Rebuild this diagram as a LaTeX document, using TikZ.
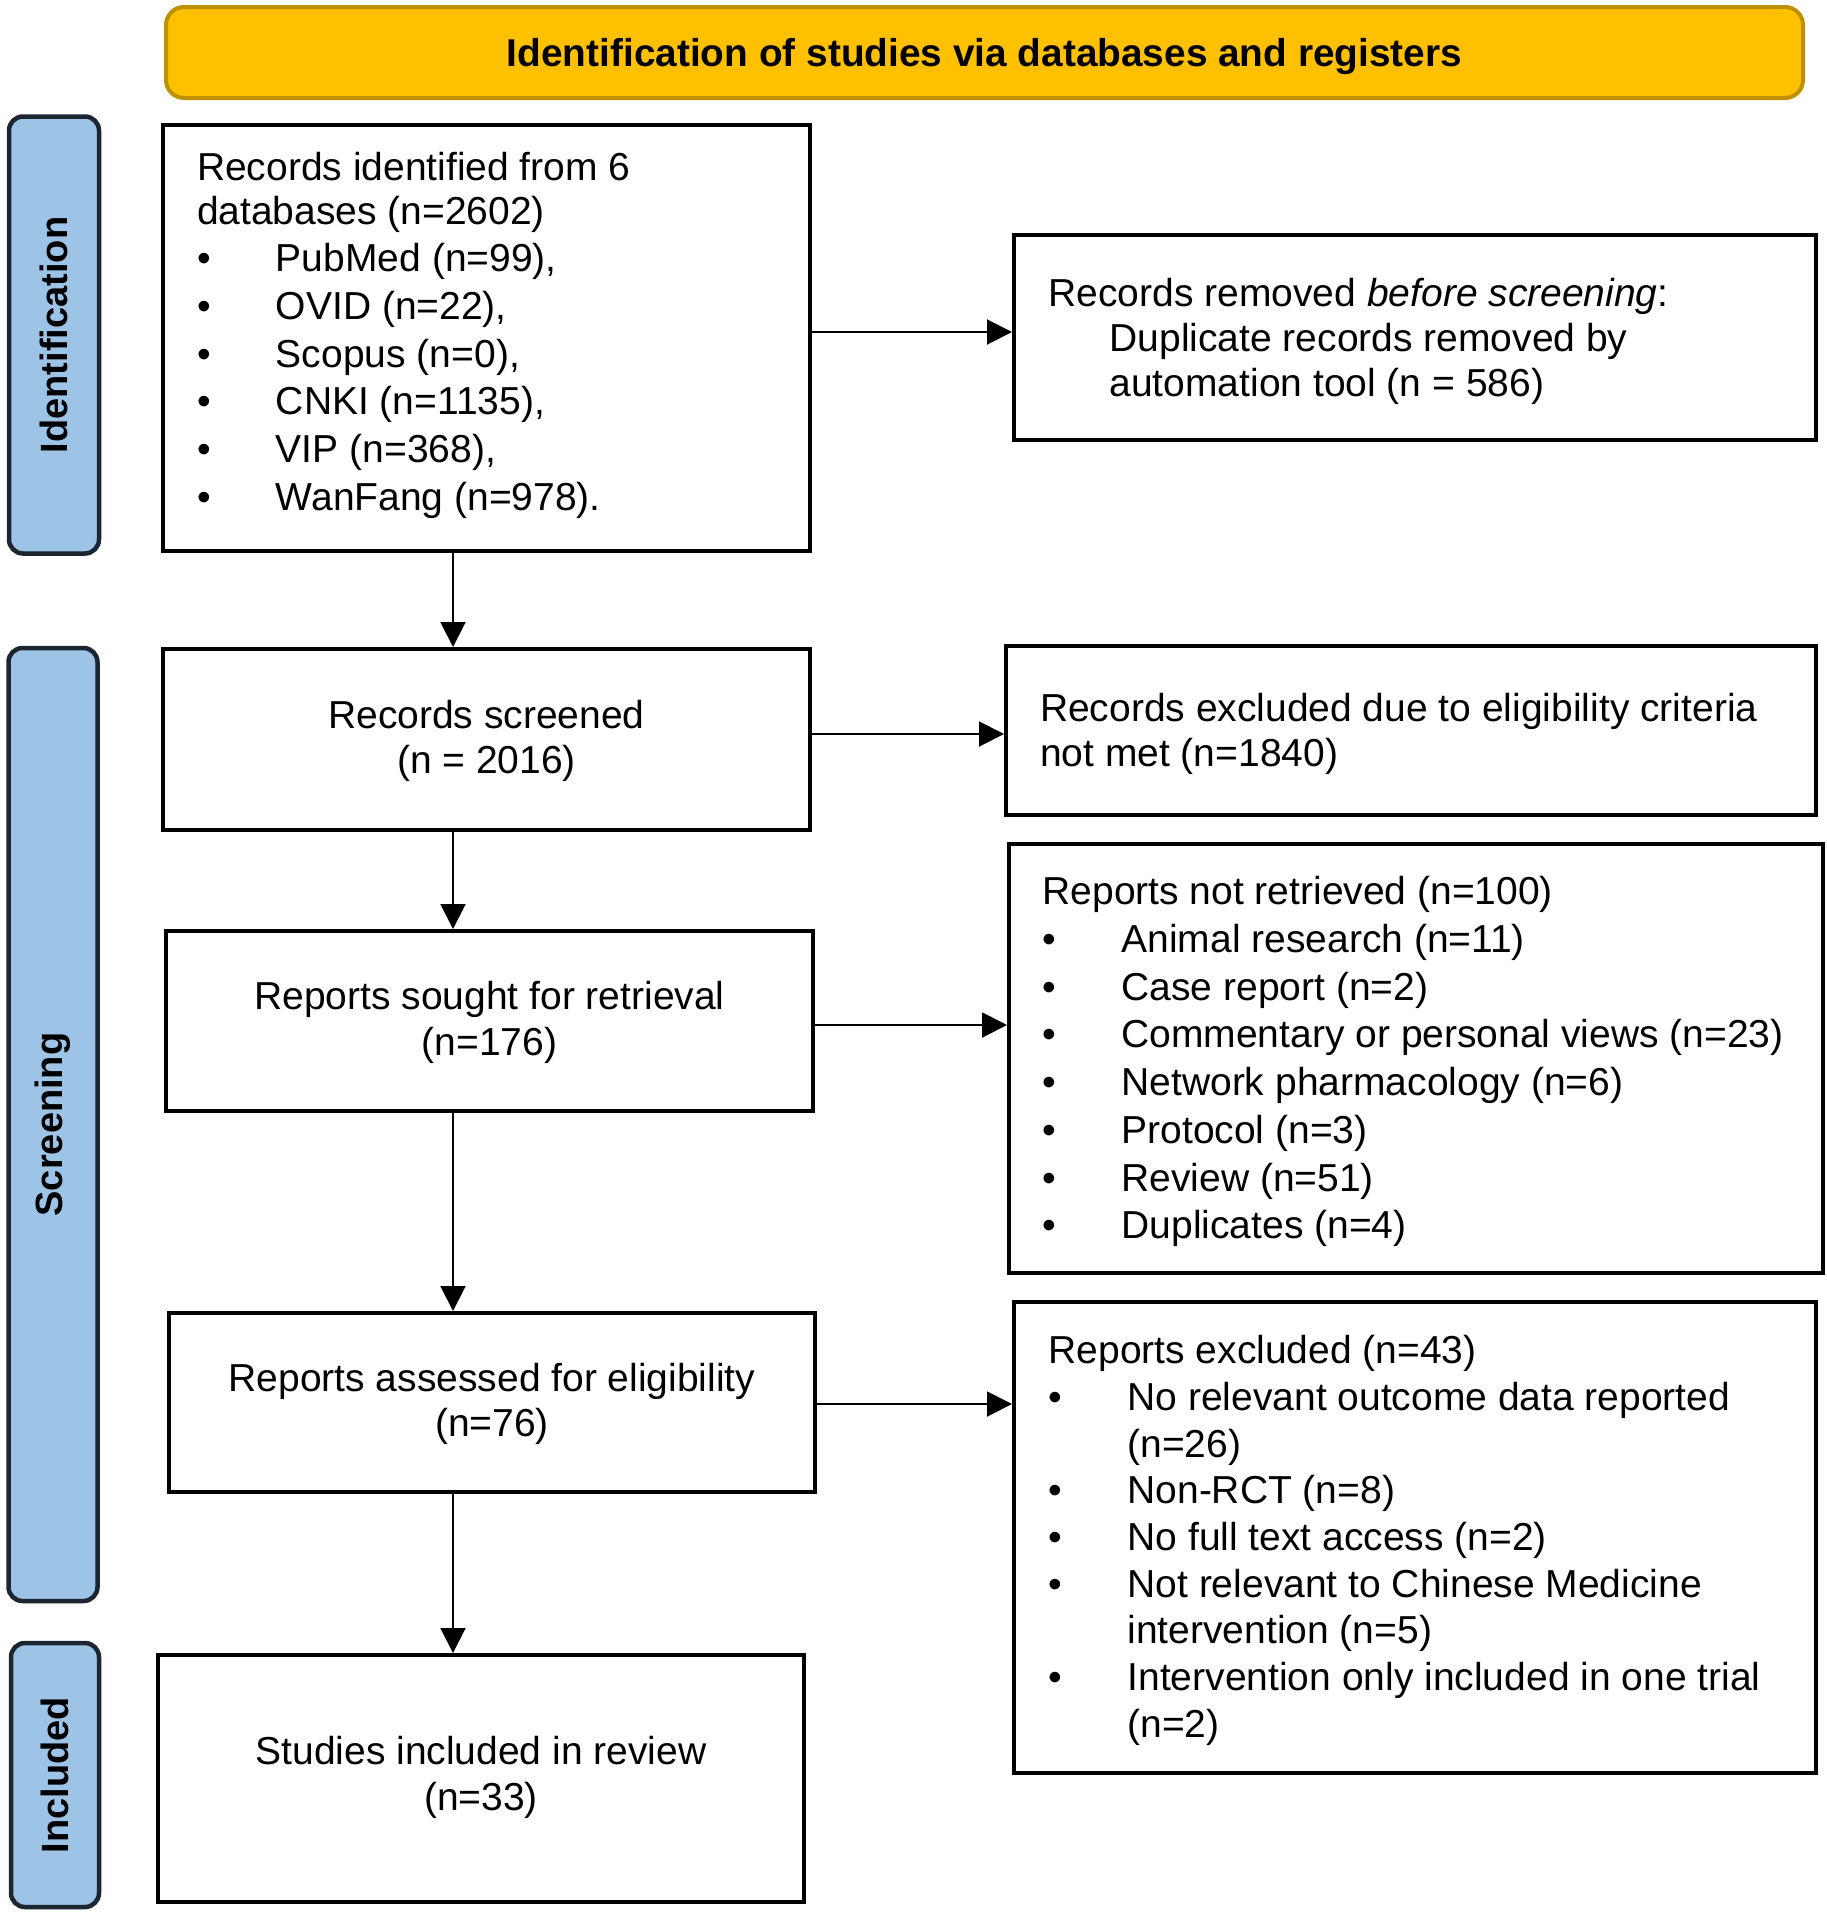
\documentclass[tikz,border=0pt]{standalone}
\usepackage{fontspec}
\setmainfont{Liberation Sans}
\usetikzlibrary{arrows.meta}
\definecolor{hdrfill}{HTML}{FFC000}
\definecolor{hdrdraw}{HTML}{BF9000}
\definecolor{sidefill}{HTML}{9DC3E6}
\definecolor{sidedraw}{HTML}{1C2530}
\newcommand{\bul}{\makebox[79pt][l]{•}}
\newcommand{\cont}{\hspace*{79pt}}
\newcommand{\lbox}[3]{\raisebox{#1pt}[\height][\depth]{\makebox[#2pt][l]{\begin{tabular}{@{}l@{}}#3\end{tabular}}}}
\newcommand{\cbox}[2]{\raisebox{#1pt}[\height][\depth]{\begin{tabular}{@{}c@{}}#2\end{tabular}}}
\begin{document}
\begin{tikzpicture}[x=1pt,y=-1pt,
  box/.style={draw=black,line width=4pt,fill=white,inner sep=0pt,anchor=center},
  hdr/.style={draw=hdrdraw,line width=4pt,fill=hdrfill,rounded corners=18pt,inner sep=0pt,
     font=\fontsize{38.8}{40}\selectfont\bfseries},
  side/.style={draw=sidedraw,line width=4.5pt,fill=sidefill,rounded corners=14pt,inner sep=0pt,
     rotate=90,font=\fontsize{38}{40}\selectfont\bfseries},
  arr/.style={line width=2pt,-{Triangle[length=25pt,width=25pt]}},
  fA/.style={font=\fontsize{39}{45.2}\selectfont},
  fB/.style={font=\fontsize{39}{47.7}\selectfont},
  fC/.style={font=\fontsize{39}{46.7}\selectfont}]
\useasboundingbox (0,0) rectangle (1827,1912);

% header
\node[hdr, minimum width=1637pt, minimum height=91pt] (hdr) at (984.5,52.5)
  {\raisebox{-3.7pt}[\height][\depth]{Identification of studies via databases and registers}};

% side bars
\node[side, minimum width=437pt, minimum height=90pt] (sideI) at (54,335) {Identification};
\node[side, minimum width=953pt, minimum height=89pt] (sideS) at (53,1124.5) {Screening};
\node[side, minimum width=264pt, minimum height=88pt] (sideN) at (55,1775) {Included};

% boxes
\node[box, fB, minimum width=647pt, minimum height=426pt] (ident) at (486.5,338)
  {\lbox{2.4}{579}{Records identified from 6\\[-3.7pt]
   databases (n=2602)\\
   \bul PubMed (n=99),\\
   \bul OVID (n=22),\\
   \bul Scopus (n=0),\\
   \bul CNKI (n=1135),\\
   \bul VIP (n=368),\\
   \bul WanFang (n=978).}};

\node[box, fA, minimum width=802pt, minimum height=205pt] (removed) at (1415,337.5)
  {\lbox{-4.8}{733}{Records removed \textit{before screening}:\\
   \hspace*{61pt}Duplicate records removed by\\
   \hspace*{61pt}automation tool (n = 586)}};

\node[box, fA, minimum width=647pt, minimum height=181pt] (screened) at (486.5,739.5)
  {\cbox{-2.5}{Records screened\\(n = 2016)}};

\node[box, fA, minimum width=810pt, minimum height=169pt] (excluded) at (1411,730.5)
  {\lbox{-4.8}{742}{Records excluded due to eligibility criteria\\
   not met (n=1840)}};

\node[box, fA, minimum width=647pt, minimum height=180pt] (sought) at (489.5,1021)
  {\cbox{-2.5}{Reports sought for retrieval\\(n=176)}};

\node[box, fB, minimum width=814pt, minimum height=429pt] (notret) at (1416,1058.5)
  {\lbox{-3.7}{747}{Reports not retrieved (n=100)\\
   \bul Animal research (n=11)\\
   \bul Case report (n=2)\\
   \bul Commentary or personal views (n=23)\\
   \bul Network pharmacology (n=6)\\
   \bul Protocol (n=3)\\
   \bul Review (n=51)\\
   \bul Duplicates (n=4)}};

\node[box, fA, minimum width=646pt, minimum height=179pt] (assessed) at (492,1402.5)
  {\cbox{-2.5}{Reports assessed for eligibility\\(n=76)}};

\node[box, fC, minimum width=802pt, minimum height=471pt] (repexcl) at (1415,1537.5)
  {\lbox{-3.7}{733}{Reports excluded (n=43)\\
   \bul No relevant outcome data reported\\
   \cont(n=26)\\
   \bul Non-RCT (n=8)\\
   \bul No full text access (n=2)\\
   \bul Not relevant to Chinese Medicine\\
   \cont intervention (n=5)\\
   \bul Intervention only included in one trial\\
   \cont(n=2)}};

\node[box, fA, minimum width=646pt, minimum height=247pt] (included) at (481,1778.5)
  {\cbox{0}{Studies included in review\\(n=33)}};

% vertical connectors
\coordinate (vx) at (453,0);
\draw[arr] (ident.south -| vx) -- (screened.north -| vx);
\draw[arr] (screened.south -| vx) -- (sought.north -| vx);
\draw[arr] (sought.south -| vx) -- (assessed.north -| vx);
\draw[arr] (assessed.south -| vx) -- (included.north -| vx);

% horizontal connectors
\draw[arr] ([yshift=6pt]ident.east) -- ([yshift=6pt]ident.east -| removed.west);
\draw[arr] ([yshift=5.5pt]screened.east) -- ([yshift=5.5pt]screened.east -| excluded.west);
\draw[arr] ([yshift=-4pt]sought.east) -- ([yshift=-4pt]sought.east -| notret.west);
\draw[arr] ([yshift=-1.5pt]assessed.east) -- ([yshift=-1.5pt]assessed.east -| repexcl.west);
\end{tikzpicture}
\end{document}
